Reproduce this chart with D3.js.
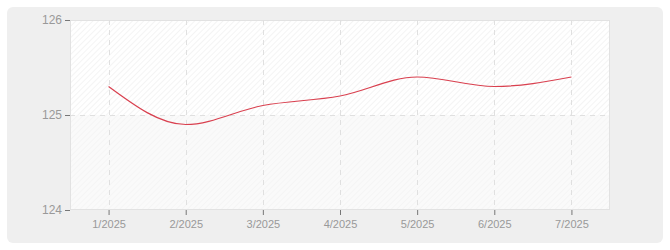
<!DOCTYPE html>
<html><head><meta charset="utf-8">
<script src="https://cdn.jsdelivr.net/npm/d3@7"></script>
<style>
html,body{margin:0;padding:0;background:#fff;}
svg{display:block;}
</style></head>
<body>
<script>
const categories = ["1/2025","2/2025","3/2025","4/2025","5/2025","6/2025","7/2025"];
const values = [125.3, 124.9, 125.1, 125.2, 125.4, 125.3, 125.4];
const yTicks = [124, 125, 126];

const W = 670, H = 250;
const m = {left:70, right:60, top:20, bottom:40};
const iw = W - m.left - m.right, ih = H - m.top - m.bottom;

const svg = d3.select("body").append("svg").attr("width", W).attr("height", H);
const defs = svg.append("defs");
function hatch(id, bg, line){
  const p = defs.append("pattern").attr("id", id).attr("patternUnits","userSpaceOnUse")
    .attr("width",4).attr("height",4).attr("patternTransform","rotate(45)");
  p.append("rect").attr("width",4).attr("height",4).attr("fill",bg);
  p.append("line").attr("x1",0).attr("y1",0).attr("x2",0).attr("y2",4).attr("stroke",line).attr("stroke-width",1);
}
hatch("hTop", "#ffffff", "#e9e9e9");
hatch("hBot", "#fafafa", "#f1f1f1");

svg.append("rect").attr("x",7).attr("y",7).attr("width",656).attr("height",236)
  .attr("rx",6).attr("fill","#efefef");

const x = d3.scalePoint().domain(categories).range([m.left, m.left+iw]).padding(0.5);
const y = d3.scaleLinear().domain([124,126]).range([m.top+ih, m.top]);

// bands
for (let i=0;i<yTicks.length-1;i++){
  svg.append("rect").attr("x",m.left).attr("width",iw)
    .attr("y",y(yTicks[i+1])).attr("height",y(yTicks[i])-y(yTicks[i+1]))
    .attr("fill", i%2===0 ? "url(#hBot)" : "url(#hTop)");
}
// border
svg.append("rect").attr("x",m.left+0.5).attr("y",m.top+0.5).attr("width",iw-1).attr("height",ih-1)
  .attr("fill","none").attr("stroke","#e2e2e2");

// grid
const g = svg.append("g");
g.selectAll(".vg").data(categories).join("line")
  .attr("x1",d=>Math.round(x(d))+0.5).attr("x2",d=>Math.round(x(d))+0.5)
  .attr("y1",m.top).attr("y2",m.top+ih)
  .attr("stroke","#e0e0e0").attr("stroke-dasharray","5,5");
g.selectAll(".hg").data(yTicks.slice(1,-1)).join("line")
  .attr("x1",m.left).attr("x2",m.left+iw)
  .attr("y1",d=>Math.round(y(d))+0.5).attr("y2",d=>Math.round(y(d))+0.5)
  .attr("stroke","#e0e0e0").attr("stroke-dasharray","5,5");

// axes
const xa = svg.append("g").attr("transform",`translate(0,${m.top+ih})`)
  .call(d3.axisBottom(x).tickSize(5).tickPadding(5));
const ya = svg.append("g").attr("transform",`translate(${m.left},0)`)
  .call(d3.axisLeft(y).tickValues(yTicks).tickFormat(d3.format("d")).tickSize(5).tickPadding(3));
[xa,ya].forEach(a=>{
  a.select(".domain").remove();
  a.selectAll(".tick line").attr("stroke","#777");
  a.selectAll(".tick text").attr("fill","#999").attr("font-family","'Liberation Sans', Arial, sans-serif");
});
xa.selectAll(".tick text").attr("font-size",11);
ya.selectAll(".tick text").attr("font-size",12);

// line
const line = d3.line().x((d,i)=>x(categories[i])).y(d=>y(d)).curve(d3.curveMonotoneX);
svg.append("path").datum(values).attr("d",line).attr("fill","none")
  .attr("stroke","#d9404f").attr("stroke-width",1.2);
</script>
</body></html>
